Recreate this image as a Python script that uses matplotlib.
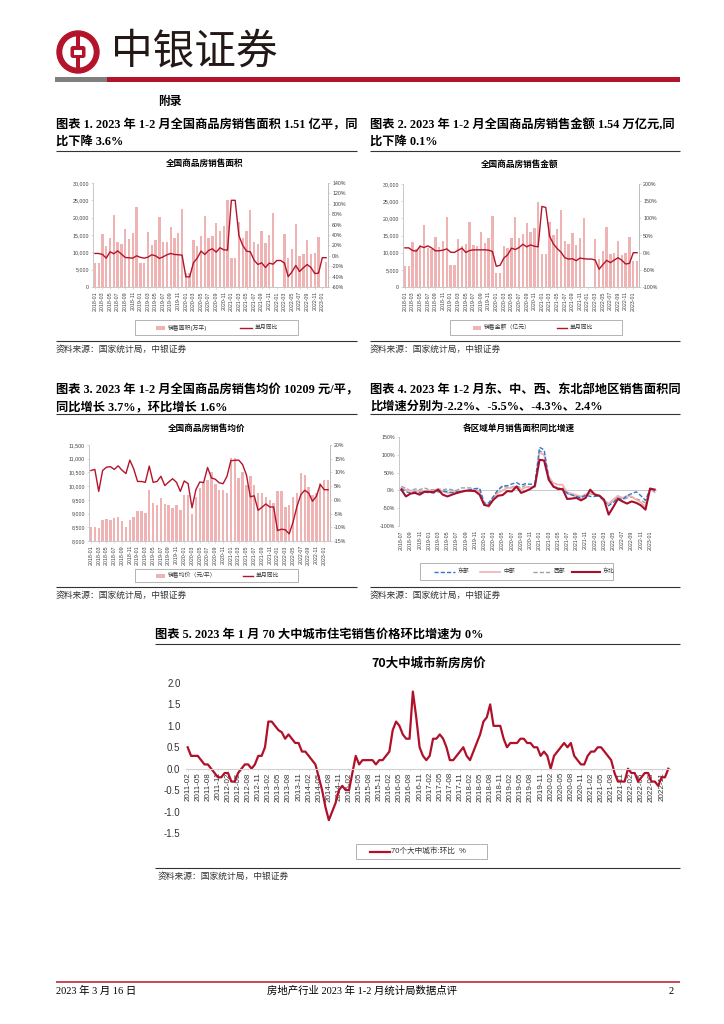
import numpy as np
import pandas as pd
import matplotlib
matplotlib.use("Agg")
import matplotlib.pyplot as plt
from matplotlib.patches import Rectangle, Circle, FancyBboxPatch
from matplotlib.lines import Line2D
from matplotlib.ticker import FuncFormatter

SANS = ["Liberation Sans", "Noto Sans CJK SC"]
SERIF = ["Liberation Serif", "Noto Sans CJK SC"]
plt.rcParams["font.family"] = SANS
plt.rcParams["axes.unicode_minus"] = False

RED = "#B3142C"
PINK = "#EEB3B2"
GRID = "#BFBFBF"
TXT = "#404040"

nan = np.nan

# === Data ===
months_a = pd.date_range("2018-01", periods=62, freq="MS").strftime("%Y-%m").tolist()
months_r = pd.date_range("2018-07", periods=56, freq="MS").strftime("%Y-%m").tolist()
months_70 = pd.date_range("2011-02", periods=144, freq="MS").strftime("%Y-%m").tolist()

# 图表1 销售面积(万平) / 单月同比(%)
area = [7050, 7050, 15350, 11970, 14190, 20660, 12840, 12360, 16700, 13800, 15440, 22970,
        6850, 6850, 15730, 12160, 13420, 20080, 12930, 12930, 17280, 14000, 15640, 22590,
        4150, 4150, 13420, 11970, 14580, 20560, 14190, 14670, 18440, 16120, 17470, 25190,
        8500, 8500, 18630, 14190, 16020, 22100, 12840, 12450, 16020, 12550, 14960, 21240,
        nan, nan, 15150, 8500, 10900, 18050, 9070, 9650, 13420, 9650, 9850, 14480,
        nan, 7340]
area_yoy = [4.5, 4.5, 2.6, -4.5, 7.7, 3.9, 9.6, 3.2, -3.2, -3.9, -4.5, 0.0,
            -3.0, -4.5, -2.6, 2.0, 0.0, -5.0, -2.0, 2.0, 4.5, 2.6, 2.0, 1.3,
            -40.5, -40.5, -13.5, -4.5, 9.0, 2.6, 10.3, 13.5, 7.0, 15.4, 11.6, 10.9,
            106.7, 106.7, 38.6, 20.0, 9.0, 7.7, -8.4, -16.7, -13.5, -22.5, -14.1, -16.1,
            -9.0, -9.0, -14.0, -39.9, -30.9, -18.6, -30.2, -23.0, -16.7, -22.5, -34.0, -33.4,
            -3.6, -3.6]

# 图表2 销售金额(亿元) / 单月同比(%)
sales = [6035, 6035, 13030, 11000, 12360, 18010, 11300, 11110, 14660, 11690, 13510, 20400,
         6320, 6320, 14080, 11970, 12550, 18870, 12360, 12070, 16090, 12930, 14370, 20590,
         4020, 4020, 12070, 11300, 14370, 20500, 14370, 15420, 18580, 15900, 17240, 24620,
         9490, 9490, 19060, 15130, 16760, 22320, 13410, 12550, 15610, 12260, 14370, 20110,
         nan, nan, 14080, 8140, 10440, 17530, 9480, 9960, 13510, 9390, 9770, 14560,
         7700, 7700]
sales_yoy = [14.0, 14.0, 6.3, 4.4, 18.8, 15.0, 19.7, 14.0, 5.4, 5.4, 7.3, 11.0,
             1.5, 0.6, 7.3, 13.0, 0.6, 6.3, 8.2, 8.2, 8.2, 8.2, 7.3, 3.4,
             -39.7, -36.8, -15.7, -6.1, 13.0, 9.2, 15.0, 24.5, 16.9, 22.6, 18.8, 16.9,
             134.6, 131.8, 48.5, 25.5, 12.0, 1.5, -14.8, -18.6, -17.6, -23.4, -15.7, -17.6,
             -18.6, -18.6, -21.5, -48.3, -34.9, -22.4, -29.1, -21.5, -14.8, -22.4, -33.0, -31.0,
             -0.1, -0.1]

# 图表3 销售均价(元/平) / 单月同比(%)
price = [8501, 8501, 8477, 8758, 8819, 8758, 8831, 8880, 8746, 8513, 8758, 8868,
         9076, 9076, 9039, 9870, 9394, 9320, 9577, 9333, 9296, 9186, 9320, 9137,
         9675, 9675, 8990, 9589, 9944, 10100, 10237, 10506, 10066, 9870, 9870, 9760,
         11030, 11030, 10300, 10530, 10050, 10370, 10050, 9750, 9750, 9600, 9500, 9400,
         9830, 9830, 9250, 9330, 9600, 9760, 10470, 10420, 9980, 9690, 9760, 10100,
         10209, 10209]
price_yoy = [10.7, 11.1, 3.1, 10.7, 11.9, 12.1, 11.1, 12.4, 10.8, 9.6, 14.5, 11.3,
             6.7, 6.7, 6.4, 12.3, 6.4, 6.7, 8.6, 5.2, 6.5, 7.7, 6.4, 3.1,
             6.9, 5.9, -2.9, 3.7, 6.5, 6.3, 11.8, 8.0, 7.5, 6.2, 5.9, 8.6,
             14.3, 14.4, 14.5, 12.9, 9.1, 1.1, 1.5, -3.8, -2.7, -1.5, -2.6, -2.6,
             -11.2, -10.7, -10.9, -12.4, -8.1, -2.4, 1.9, 3.5, 2.5, -0.5, 1.3, 5.6,
             3.7, 3.7]

# 图表4 各区域单月销售面积同比(%)
east = [6, -4, -7, -4, -6, -5, -6, -7, -4, -2, -4, -6, -4, -3, -1, 2, 5, 6,
        -37, -35, -17, 2, 13, 13, 18, 22, 15, 19, 17, 19,
        121, 114, 35, 9, 7, 2, -7, -13, -17, -21, -13, -17,
        -17, -15, -30, -43, -34, -21, -26, -15, -9, -4, -15, -28,
        4, -2.2]
central = [7, 2, -1, 0, -2, -2, -1, -1, 4, -3, -7, -6, -4, -2, 0, 2, 2, -4,
           -40, -47, -21, -7, 0, 7, 7, 9, 2, 9, 9, 11,
           106, 100, 39, 21, 16, 16, -6, -9, -13, -17, -11, -7,
           -9, -14, -28, -37, -26, -15, -21, -15, -17, -26, -34, -45,
           6, -5.5]
west = [11, 6, -1, 4, 2, 7, 2, 2, 4, 2, 4, 2, 0, 7, 7, 7, 4, 4,
        -34, -39, -17, 0, 11, 9, 9, 13, 7, 15, 7, 9,
        112, 104, 30, 13, 7, 6, -9, -13, -17, -22, -14, -9,
        -13, -17, -31, -41, -28, -19, -28, -21, -19, -24, -28, -35,
        4, -4.3]
northeast = [2, -17, -9, -7, -12, -4, -4, -5, 2, -12, -17, -12, -7.5, -4, -1, -1, -2, -12,
             -41, -43, -26, -15, -13, -2, -3, 11, -7, -2, 4, 13,
             86, 84, 30, 11, 4, 4, -24, -23, -21, -28, -21, 2,
             -12, -15, -26, -68, -47, -24, -31, -37, -31, -35, -42, -54,
             5, 2.4]

# 图表5 70个大中城市新房价格环比(%)
mom70 = [0.5, 0.3, 0.3, 0.3, 0.2, 0.1, 0.1, 0.0, -0.1, -0.2, -0.2, -0.1,
         -0.1, -0.3, -0.3, -0.1, 0.0, 0.1, 0.1, 0.0, 0.1, 0.3, 0.3, 0.5,
         1.1, 1.1, 1.0, 0.9, 0.85, 0.7, 0.8, 0.7, 0.6, 0.6, 0.4, 0.4,
         0.3, 0.2, 0.1, -0.2, -0.5, -0.9, -1.2, -1.0, -0.8, -0.5, -0.4, -0.5,
         -0.5, -0.1, 0.3, 0.1, 0.2, 0.2, 0.2, 0.2, 0.1, 0.2, 0.2, 0.3,
         0.4, 0.9, 1.1, 1.0, 0.8, 0.7, 0.7, 1.8, 1.2, 0.5, 0.3, 0.2,
         0.3, 0.7, 0.7, 0.8, 0.7, 0.5, 0.2, 0.2, 0.3, 0.4, 0.5, 0.3,
         0.2, 0.4, 0.6, 0.8, 1.1, 1.2, 1.5, 1.0, 1.0, 1.0, 0.7, 0.5,
         0.6, 0.6, 0.6, 0.7, 0.7, 0.6, 0.6, 0.5, 0.5, 0.3, 0.4, 0.3,
         0.0, 0.3, 0.4, 0.5, 0.6, 0.5, 0.6, 0.3, 0.2, 0.1, 0.1, 0.3,
         0.4, 0.4, 0.5, 0.5, 0.4, 0.3, 0.2, -0.1, -0.3, -0.3, -0.3, 0.0,
         -0.1, -0.1, -0.3, -0.2, -0.1, -0.1, -0.3, -0.3, -0.4, -0.2, -0.2, 0.0]

# === Page setup (pixel coordinates) ===
W, H = 724, 1024
fig = plt.figure(figsize=(W / 100, H / 100), dpi=100)
page = fig.add_axes([0, 0, 1, 1])
page.set_xlim(0, W)
page.set_ylim(H, 0)
page.axis("off")


def make_ax(x0, y0, x1, y1):
    return fig.add_axes([x0 / W, 1 - y1 / H, (x1 - x0) / W, (y1 - y0) / H])


def text(x, y, s, size, weight="normal", ha="left", color="black", family=SERIF):
    page.text(x, y, s, fontsize=size, fontweight=weight, ha=ha, va="center",
              color=color, family=family)


def rule(x0, x1, y, color="#333333", lw=0.8):
    page.plot([x0, x1], [y, y], color=color, lw=lw, solid_capstyle="butt")


def style(ax, sides=("left", "bottom")):
    for s in ["top", "bottom", "left", "right"]:
        ax.spines[s].set_visible(s in sides)
        ax.spines[s].set_color(GRID)
        ax.spines[s].set_linewidth(0.6)
    ax.tick_params(labelsize=3.8, length=1.5, width=0.4, colors=GRID, labelcolor=TXT, pad=1.5)


def legend_box(x0, y0, x1, y1, items):
    page.add_patch(Rectangle((x0, y0), x1 - x0, y1 - y0, fill=False, ec="#A6A6A6", lw=0.6))
    yc = (y0 + y1) / 2
    for kind, hx0, hx1, kw, label in items:
        if kind == "bar":
            page.add_patch(Rectangle((hx0, yc - 2), hx1 - hx0, 4, color=kw["color"], lw=0))
        else:
            page.add_line(Line2D([hx0, hx1], [yc, yc], **kw))
        text(hx1 + 3, yc, label, 4.2, family=SANS, color="#333333")


# === Header ===
page.add_patch(Circle((78, 52), 21, color=RED))
page.add_patch(Circle((78, 52), 15, color="white"))
page.add_patch(Rectangle((76, 32), 4, 40, color=RED, lw=0))
page.add_patch(FancyBboxPatch((70.5, 46), 15, 12, boxstyle="round,pad=0,rounding_size=2.5",
                              fc=RED, ec="none"))
page.add_patch(Rectangle((74, 49.5), 8, 5, color="white", lw=0))
text(111, 52, "中银证券", 30, color="#231815", family=["Noto Sans CJK SC"])
page.add_patch(Rectangle((55, 77), 52, 5, color="#7F7F7F", lw=0))
page.add_patch(Rectangle((107, 77), 573, 5, color=RED, lw=0))
text(158, 102, "附录", 8.5, weight="bold")

# === Titles ===
TS = 8.8
text(56, 125, "图表 1. 2023 年 1-2 月全国商品房销售面积 1.51 亿平，同", TS, weight="bold")
text(56, 142, "比下降 3.6%", TS, weight="bold")
text(370, 125, "图表 2. 2023 年 1-2 月全国商品房销售金额 1.54 万亿元,同", TS, weight="bold")
text(370, 142, "比下降 0.1%", TS, weight="bold")
text(56, 390, "图表 3. 2023 年 1-2 月全国商品房销售均价 10209 元/平，", TS, weight="bold")
text(56, 407, "同比增长 3.7%，环比增长 1.6%", TS, weight="bold")
text(370, 390, "图表 4. 2023 年 1-2 月东、中、西、东北部地区销售面积同", TS, weight="bold")
text(370, 407, "比增速分别为-2.2%、-5.5%、-4.3%、2.4%", TS, weight="bold")
text(155, 635, "图表 5. 2023 年 1 月 70 大中城市住宅销售价格环比增速为 0%", TS, weight="bold")

for (x0, x1, y) in [(56, 357, 151), (370, 680, 151), (56, 357, 414), (370, 680, 414), (155, 680, 644)]:
    rule(x0, x1, y)
for (x0, x1, y) in [(56, 357, 341), (370, 680, 341), (56, 357, 587), (370, 680, 587), (155, 680, 868)]:
    rule(x0, x1, y)
for (x, y) in [(56, 349), (370, 349), (56, 595), (370, 595), (158, 876)]:
    text(x, y, "资料来源：国家统计局，中银证券", 6.3, color="#333333", family=["Noto Sans CJK SC"])

text(205, 163, "全国商品房销售面积", 6.2, weight="bold", ha="center")
text(520, 164, "全国商品房销售金额", 6.2, weight="bold", ha="center")
text(207, 428, "全国商品房销售均价", 6.2, weight="bold", ha="center")
text(519, 429, "各区域单月销售面积同比增速", 6.2, weight="bold", ha="center")
text(429, 663, "70大中城市新房房价", 9, weight="bold", ha="center", family=["Noto Sans CJK SC"])


# === Bar + line charts ===
def bar_line(box, bars, yoy, ylim, ystep, y2lim, y2step):
    ax = make_ax(*box)
    x = np.arange(len(bars))
    ax.bar(x, bars, width=0.62, color=PINK, zorder=1)
    ax.set_xlim(-0.5, len(bars) - 0.5)
    ax.set_ylim(*ylim)
    ax.set_yticks(np.arange(ylim[0], ylim[1] + 1, ystep))
    ax.yaxis.set_major_formatter(FuncFormatter(lambda v, p: f"{v:,.0f}"))
    ax.set_xticks(x[::2])
    ax.set_xticklabels(months_a[::2], rotation=90)
    style(ax, ("left", "bottom", "right"))
    ax2 = ax.twinx()
    ax2.plot(x, yoy, color=RED, lw=1.0, solid_joinstyle="round")
    ax2.set_ylim(*y2lim)
    ax2.set_yticks(np.arange(y2lim[0], y2lim[1] + 1, y2step))
    ax2.yaxis.set_major_formatter(FuncFormatter(lambda v, p: f"{v:.0f}%"))
    style(ax2, ("right",))
    return ax, ax2


bar_line((93, 183, 328, 287), area, area_yoy, (0, 30000), 5000, (-60, 140), 20)
bar_line((403, 184, 639, 287), sales, sales_yoy, (0, 30000), 5000, (-100, 200), 50)
bar_line((89, 445, 330, 541), price, price_yoy, (8000, 11500), 500, (-15, 20), 5)

legend_box(135, 320, 298, 335, [("bar", 156, 165, {"color": PINK}, "销售面积(万平)"),
                                ("line", 240, 252, {"color": RED, "lw": 1.0}, "单月同比")])
legend_box(450, 320, 622, 335, [("bar", 473, 481, {"color": PINK}, "销售金额（亿元）"),
                                ("line", 557, 567, {"color": RED, "lw": 1.0}, "单月同比")])
legend_box(135, 569, 298, 582, [("bar", 156, 165, {"color": PINK}, "销售均价（元/平）"),
                                ("line", 243, 253, {"color": RED, "lw": 1.0}, "单月同比")])

# === 图表4 regional lines ===
ax4 = make_ax(399, 437, 657, 526)
xr = np.arange(len(months_r))
ax4.axhline(0, color=GRID, lw=0.6, zorder=0)
ax4.plot(xr, west, color="#A0A0A0", lw=1.0, ls=(0, (3, 1.5)))
ax4.plot(xr, central, color="#F2AFAD", lw=1.2)
ax4.plot(xr, east, color="#2F78D2", lw=1.0, ls=(0, (3, 1.5)))
ax4.plot(xr, northeast, color="#A50F2B", lw=1.5)
ax4.set_xlim(-0.5, len(xr) - 0.5)
ax4.set_ylim(-100, 150)
ax4.set_yticks(np.arange(-100, 151, 50))
ax4.yaxis.set_major_formatter(FuncFormatter(lambda v, p: f"{v:.0f}%"))
ax4.set_xticks(xr[::2])
ax4.set_xticklabels(months_r[::2], rotation=90)
style(ax4, ("left",))
ax4.tick_params(axis="x", length=0, pad=3)
legend_box(420, 563, 613, 580, [
    ("line", 434, 455, {"color": "#2F78D2", "lw": 1.0, "ls": (0, (3, 1.5))}, "东部"),
    ("line", 480, 500, {"color": "#F2AFAD", "lw": 1.2}, "中部"),
    ("line", 533, 551, {"color": "#A0A0A0", "lw": 1.0, "ls": (0, (3, 1.5))}, "西部"),
    ("line", 572, 600, {"color": "#A50F2B", "lw": 1.5}, "东北")])

# === 图表5 70 cities ===
ax5 = make_ax(186, 683, 670, 833)
x5 = np.arange(len(months_70))
for s in ["top", "left", "right"]:
    ax5.spines[s].set_visible(False)
ax5.spines["bottom"].set_position(("data", 0))
ax5.spines["bottom"].set_color("#D0D0D0")
ax5.spines["bottom"].set_linewidth(0.8)
ax5.plot(x5, mom70, color="#B0102A", lw=1.6, solid_joinstyle="round")
ax5.set_xlim(-0.5, len(x5) - 0.5)
ax5.set_ylim(-1.5, 2.0)
ax5.set_yticks(np.arange(-1.5, 2.01, 0.5))
ax5.yaxis.set_major_formatter(FuncFormatter(lambda v, p: f"{v:.1f}"))
ax5.set_xticks(x5[::3])
ax5.set_xticklabels(months_70[::3], rotation=90)
ax5.tick_params(axis="y", length=0, labelsize=7, labelcolor="#333333", pad=4)
ax5.tick_params(axis="x", length=1.5, width=0.4, colors="#D0D0D0", labelcolor="#333333",
                labelsize=5.8, pad=1, labelrotation=90)
legend_box(356, 844, 487, 859, [("line", 370, 390, {"color": "#B0102A", "lw": 1.6}, "")])
text(391, 851.5, "70个大中城市:环比  %", 5.5, family=SANS, color="#333333")

# === Footer ===
rule(56, 680, 982, color="#C0283D", lw=1.2)
text(56, 991, "2023 年 3 月 16 日", 7.5)
text(362, 991, "房地产行业 2023 年 1-2 月统计局数据点评", 7.5, ha="center")
text(674, 991, "2", 7.5, ha="right")

fig.savefig("out.png", dpi=100)
